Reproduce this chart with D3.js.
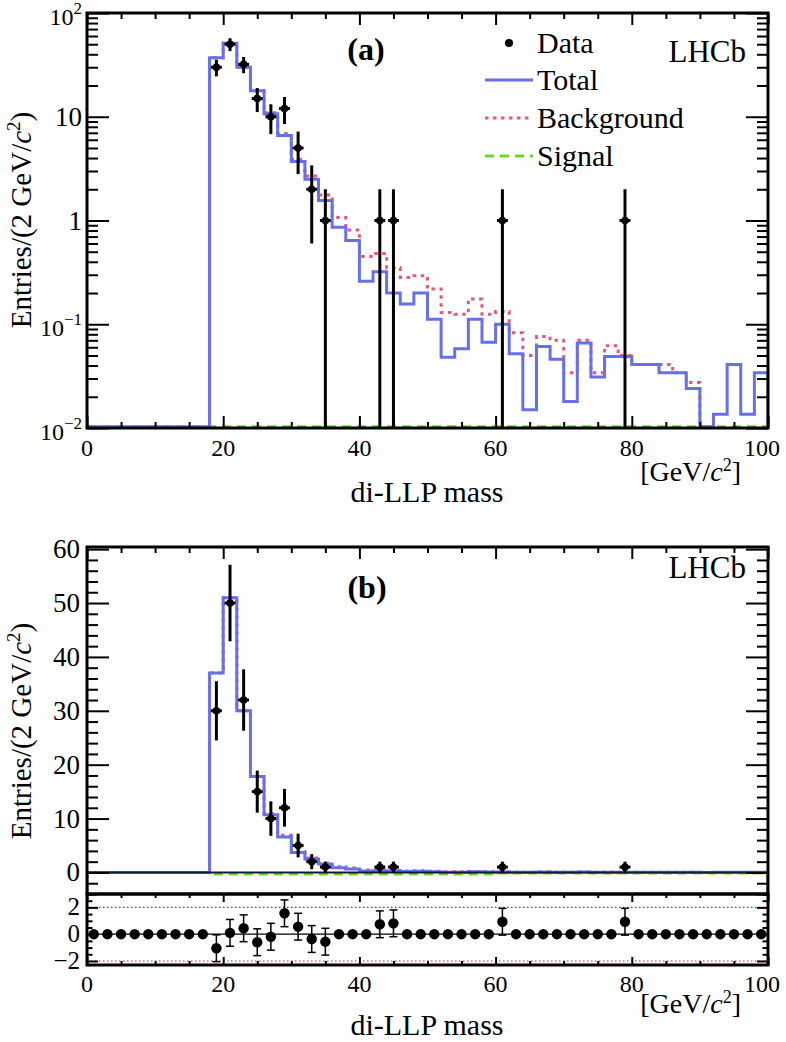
<!DOCTYPE html>
<html><head><meta charset="utf-8">
<script src="https://cdn.jsdelivr.net/npm/d3@7"></script>
<style>
body{margin:0;background:#fff}
svg text{font-family:"Liberation Serif","Times New Roman",serif;fill:#000}
</style>
</head><body>
<svg id="c" width="786" height="1042"></svg>
<script>
// ---------------- data ----------------
const binWidth = 2;                     // GeV per bin, 50 bins from 0 to 100
const xTickMajor = [0, 20, 40, 60, 80, 100];
const total = [0,0,0,0,0,0,0,0,0,
  37,51,30,17.8,10.7,6.6,3.7,2.5,1.56,0.86,0.64,
  0.26,0.32,0.20,0.157,0.20,0.112,0.048,0.058,0.112,0.067,
  0.10,0.052,0.015,0.061,0.046,0.018,0.066,0.031,0.049,0.049,
  0.041,0.041,0.034,0.034,0.024,0.009,0.0136,0.041,0.0136,0.034];
const background = [0,0,0,0,0,0,0,0,0,
  37,51,30,17.8,10.9,6.9,3.9,2.68,1.76,1.07,0.81,
  0.45,0.48,0.35,0.283,0.294,0.219,0.13,0.125,0.175,0.125,
  0.133,0.083,0.050,0.076,0.070,0.034,0.070,0.034,0.062,0.050,
  0.041,0.041,0.041,0.034,0.0274,0,0,0,0,0];
const signal = [0,0,0,0,0,0,0,0,0,
  -0.3,-0.3,-0.3,-0.3,-0.3,-0.3,-0.3,-0.3,-0.3,-0.3,-0.3,
  -0.3,-0.3,-0.3,-0.3,-0.3,-0.3,-0.3,-0.3,-0.3,-0.3,
  -0.1,-0.1,-0.1,-0.1,-0.1,-0.1,-0.1,-0.1,-0.1,-0.1,
  -0.1,-0.1,-0.1,-0.1,-0.1,-0.1,-0.1,-0.1,-0.1,-0.1];
const dataMass  = [19,21,23,25,27,29,31,33,35,43,45,61,79];
const dataCount = [30,50,32,15,10,12,5,2,1,1,1,1,1];
const dataErr   = [5.5,7.1,5.7,3.9,3.2,3.5,2.2,1.4,1,1,1,1,1];
// pulls per bin (10 bins per row)
const pull = [0,0,0,0,0,0,0,0,0,-1.05,
  0.1,0.44,-0.6,-0.19,1.56,0.56,-0.36,-0.56,0,0,
  0,0.74,0.81,0,0,0,0,0,0,0,
  0.93,0,0,0,0,0,0,0,0,0.93,
  0,0,0,0,0,0,0,0,0,0];
const pullErr = [0,0,0,0,0,0,0,0,0,1,
  1,1,1,1,1,1,1,1,0,0,
  0,1,1,0,0,0,0,0,0,0,
  1,0,0,0,0,0,0,0,0,1,
  0,0,0,0,0,0,0,0,0,0];
const logTicks = [0.01, 0.1, 1, 10, 100];
const logTickLabels = [["10","\u22122"],["10","\u22121"],["1",""],["10",""],["10","2"]];
const linTicks = [0, 10, 20, 30, 40, 50, 60];
const pullTicks = [-2, 0, 2];
const legendItems = ["Data", "Total", "Background", "Signal"];

// ---------------- style ----------------
const BLUE = "#6670e8", PINK = "#ea5580", GREEN = "#66dc1e";
const L = 87, R = 768;
const svg = d3.select("#c");
const defs = svg.append("defs");

const x = d3.scaleLinear().domain([0, 100]).range([L, R]);
const yA = d3.scaleLog().domain([0.01, 100]).range([428, 13]);
const yB = d3.scaleLinear().domain([-4, 60.4]).range([894, 547]);
const yR = d3.scaleLinear().domain([-2.3, 3]).range([965, 894]);

function clip(id, y0, y1) {
  defs.append("clipPath").attr("id", id).append("rect")
    .attr("x", L).attr("y", y0).attr("width", R - L).attr("height", y1 - y0);
}
clip("cA", 13, 428); clip("cB", 547, 894); clip("cR", 894, 965);

function stepPts(vals, yf, base) {
  const pts = [[x(0), base]];
  vals.forEach((v, i) => {
    const yy = yf(v);
    pts.push([x(i * binWidth), yy], [x((i + 1) * binWidth), yy]);
  });
  pts.push([x(100), base]);
  return pts;
}
const line = d3.line();

function drawHist(g, pts, color, dash) {
  g.append("path").attr("d", line(pts)).attr("fill", "none")
    .attr("stroke", color).attr("stroke-width", 3)
    .attr("stroke-dasharray", dash || null).attr("stroke-linejoin", "miter");
}
function minorVals(lo, hi, step, majors) {
  const out = [];
  for (let v = lo; v <= hi + 1e-9; v += step) {
    const r = Math.round(v * 1000) / 1000;
    if (!majors.some(m => Math.abs(m - r) < 1e-9)) out.push(r);
  }
  return out;
}
function tickAxis(axisFn, scale, vals, size, tx, ty) {
  const g = svg.append("g").attr("transform", `translate(${tx},${ty})`);
  g.call(axisFn(scale).tickValues(vals).tickSize(size).tickFormat(""));
  g.select(".domain").remove();
  g.selectAll(".tick line").attr("stroke", "#000").attr("stroke-width", 2);
  return g;
}
function frame(y0, y1) {
  svg.append("rect").attr("x", L).attr("y", y0).attr("width", R - L).attr("height", y1 - y0)
    .attr("fill", "none").attr("stroke", "#000").attr("stroke-width", 3);
}
function entriesTitle(yy) {
  const t = svg.append("text").attr("font-size", 29).attr("text-anchor", "middle")
    .attr("transform", `translate(31,${yy}) rotate(-90)`);
  t.append("tspan").text("Entries/(2 GeV/");
  t.append("tspan").attr("font-style", "italic").text("c");
  t.append("tspan").attr("font-size", 19).attr("dy", -11).text("2");
  t.append("tspan").attr("dy", 11).text(")");
}
function gevTitle(yy) {
  const t = svg.append("text").attr("font-size", 28).attr("text-anchor", "end")
    .attr("transform", `translate(741,${yy})`);
  t.append("tspan").text("[GeV/");
  t.append("tspan").attr("font-style", "italic").text("c");
  t.append("tspan").attr("font-size", 18).attr("dy", -10).text("2");
  t.append("tspan").attr("dy", 10).text("]");
}
function xTickLabels(yy) {
  xTickMajor.forEach((v, i) => {
    const last = i === xTickMajor.length - 1;
    svg.append("text").attr("x", last ? x(v) + 12 : x(v)).attr("y", yy)
      .attr("text-anchor", last ? "end" : "middle").attr("font-size", 24).text(v);
  });
}
const xMinor = minorVals(0, 100, 5, xTickMajor);

// ================= Panel (a): log scale =================
const gA = svg.append("g").attr("clip-path", "url(#cA)");
const clampLo = v => yA(Math.max(v, 0.0103));
drawHist(gA, stepPts(signal, clampLo, clampLo(0)), GREEN, "9,6");
drawHist(gA, stepPts(background, v => v > 0 ? yA(v) : 460, 460), PINK, "3.5,4.5");
drawHist(gA, stepPts(total, clampLo, clampLo(0)), BLUE);
dataMass.forEach((m, i) => {
  const c = dataCount[i], e = dataErr[i];
  const lo = c - e > 0 ? yA(c - e) : 460;
  gA.append("line").attr("x1", x(m)).attr("x2", x(m)).attr("y1", yA(c + e)).attr("y2", lo)
    .attr("stroke", "#000").attr("stroke-width", 3);
  gA.append("line").attr("x1", x(m - 0.8)).attr("x2", x(m + 0.8)).attr("y1", yA(c)).attr("y2", yA(c))
    .attr("stroke", "#000").attr("stroke-width", 3);
  gA.append("circle").attr("cx", x(m)).attr("cy", yA(c)).attr("r", 3.8).attr("fill", "#000");
});
frame(13, 428);
const logMinor = [];
logTicks.slice(0, -1).forEach(d => { for (let k = 2; k <= 9; k++) logMinor.push(d * k); });
tickAxis(d3.axisLeft, yA, logTicks, -22, L, 0);
tickAxis(d3.axisLeft, yA, logMinor, -11, L, 0);
tickAxis(d3.axisRight, yA, logTicks, -22, R, 0);
tickAxis(d3.axisRight, yA, logMinor, -11, R, 0);
tickAxis(d3.axisBottom, x, xTickMajor, -12, 0, 428);
tickAxis(d3.axisBottom, x, xMinor, -6, 0, 428);
tickAxis(d3.axisTop, x, xTickMajor, -12, 0, 13);
tickAxis(d3.axisTop, x, xMinor, -6, 0, 13);
logTicks.forEach((v, i) => {
  const [base, sup] = logTickLabels[i];
  if (sup) {
    const t = svg.append("text").attr("x", 82).attr("y", yA(v) + 12)
      .attr("text-anchor", "end").attr("font-size", 24);
    t.append("tspan").text(base);
    t.append("tspan").attr("font-size", 17).attr("dy", -11).text(sup);
  } else {
    svg.append("text").attr("x", 82).attr("y", yA(v) + 9)
      .attr("text-anchor", "end").attr("font-size", 27).text(base);
  }
});
xTickLabels(456);
entriesTitle(220);
svg.append("text").attr("x", 427).attr("y", 502).attr("text-anchor", "middle")
  .attr("font-size", 30).text("di-LLP mass");
gevTitle(481);
svg.append("text").attr("x", 366).attr("y", 60).attr("text-anchor", "middle")
  .attr("font-size", 32).attr("font-weight", "bold").text("(a)");
svg.append("text").attr("x", 746).attr("y", 62).attr("text-anchor", "end")
  .attr("font-size", 31).text("LHCb");
// legend
const legY = [43, 80, 118, 156];
const lg = svg.append("g");
legendItems.forEach((name, i) => {
  lg.append("text").attr("x", 537).attr("y", legY[i] + 10).attr("font-size", 30).text(name);
});
lg.append("circle").attr("cx", 509).attr("cy", legY[0]).attr("r", 4).attr("fill", "#000");
lg.append("line").attr("x1", 485).attr("x2", 533).attr("y1", legY[1]).attr("y2", legY[1])
  .attr("stroke", BLUE).attr("stroke-width", 3);
lg.append("line").attr("x1", 485).attr("x2", 533).attr("y1", legY[2]).attr("y2", legY[2])
  .attr("stroke", PINK).attr("stroke-width", 3).attr("stroke-dasharray", "3.5,4.5");
lg.append("line").attr("x1", 485).attr("x2", 533).attr("y1", legY[3]).attr("y2", legY[3])
  .attr("stroke", GREEN).attr("stroke-width", 3).attr("stroke-dasharray", "9,6");

// ================= Panel (b): linear =================
const gB = svg.append("g").attr("clip-path", "url(#cB)");
drawHist(gB, stepPts(signal, yB, yB(-4)), GREEN, "9,6");
drawHist(gB, stepPts(background, yB, yB(-4)), PINK, "3.5,4.5");
drawHist(gB, stepPts(total, yB, yB(-4)), BLUE);
gB.append("line").attr("x1", x(0)).attr("x2", x(100)).attr("y1", yB(0)).attr("y2", yB(0))
  .attr("stroke", "#111a3a").attr("stroke-width", 2);
dataMass.forEach((m, i) => {
  const c = dataCount[i], e = dataErr[i];
  gB.append("line").attr("x1", x(m)).attr("x2", x(m)).attr("y1", yB(c + e)).attr("y2", yB(c - e))
    .attr("stroke", "#000").attr("stroke-width", 3);
  gB.append("line").attr("x1", x(m - 0.8)).attr("x2", x(m + 0.8)).attr("y1", yB(c)).attr("y2", yB(c))
    .attr("stroke", "#000").attr("stroke-width", 3);
  gB.append("circle").attr("cx", x(m)).attr("cy", yB(c)).attr("r", 3.8).attr("fill", "#000");
});
frame(547, 894);
const linMinor = minorVals(-4, 60, 2, linTicks);
tickAxis(d3.axisLeft, yB, linTicks, -22, L, 0);
tickAxis(d3.axisLeft, yB, linMinor, -11, L, 0);
tickAxis(d3.axisRight, yB, linTicks, -22, R, 0);
tickAxis(d3.axisRight, yB, linMinor, -11, R, 0);
tickAxis(d3.axisTop, x, xTickMajor, -12, 0, 547);
tickAxis(d3.axisTop, x, xMinor, -6, 0, 547);
linTicks.forEach(v => {
  svg.append("text").attr("x", 80).attr("y", yB(v) + 9).attr("text-anchor", "end")
    .attr("font-size", 27).text(v);
});
entriesTitle(731);
svg.append("text").attr("x", 367).attr("y", 598).attr("text-anchor", "middle")
  .attr("font-size", 32).attr("font-weight", "bold").text("(b)");
svg.append("text").attr("x", 746).attr("y", 578).attr("text-anchor", "end")
  .attr("font-size", 31).text("LHCb");

// ================= Pull panel =================
const gR = svg.append("g").attr("clip-path", "url(#cR)");
[-2, 2].forEach(v => {
  gR.append("line").attr("x1", x(0)).attr("x2", x(100)).attr("y1", yR(v)).attr("y2", yR(v))
    .attr("stroke", "#e01010").attr("stroke-width", 1.2).attr("stroke-dasharray", "1.5,2.5");
});
gR.append("line").attr("x1", x(0)).attr("x2", x(100)).attr("y1", yR(0)).attr("y2", yR(0))
  .attr("stroke", "#000").attr("stroke-width", 1.2);
pull.forEach((p, i) => {
  const m = i * binWidth + binWidth / 2, e = pullErr[i];
  if (e > 0) {
    gR.append("line").attr("x1", x(m)).attr("x2", x(m)).attr("y1", yR(p + e)).attr("y2", yR(p - e))
      .attr("stroke", "#000").attr("stroke-width", 1.5);
    [p + e, p - e].forEach(v => gR.append("line").attr("x1", x(m) - 4).attr("x2", x(m) + 4)
      .attr("y1", yR(v)).attr("y2", yR(v)).attr("stroke", "#000").attr("stroke-width", 1.5));
  }
  gR.append("circle").attr("cx", x(m)).attr("cy", yR(p)).attr("r", 5.2).attr("fill", "#000");
});
frame(894, 965);
const pullMinor = minorVals(-2, 3, 0.5, pullTicks);
tickAxis(d3.axisLeft, yR, pullTicks, -11, L, 0);
tickAxis(d3.axisLeft, yR, pullMinor, -5.5, L, 0);
tickAxis(d3.axisRight, yR, pullTicks, -11, R, 0);
tickAxis(d3.axisRight, yR, pullMinor, -5.5, R, 0);
tickAxis(d3.axisTop, x, xTickMajor, -8, 0, 894);
tickAxis(d3.axisTop, x, xMinor, -4, 0, 894);
tickAxis(d3.axisBottom, x, xTickMajor, -8, 0, 965);
tickAxis(d3.axisBottom, x, xMinor, -4, 0, 965);
pullTicks.forEach(v => {
  svg.append("text").attr("x", 80).attr("y", yR(v) + 8).attr("text-anchor", "end")
    .attr("font-size", 25).text(v < 0 ? "\u2212" + Math.abs(v) : v);
});
xTickLabels(992);
svg.append("text").attr("x", 427).attr("y", 1035).attr("text-anchor", "middle")
  .attr("font-size", 30).text("di-LLP mass");
gevTitle(1013);
</script>
</body></html>
